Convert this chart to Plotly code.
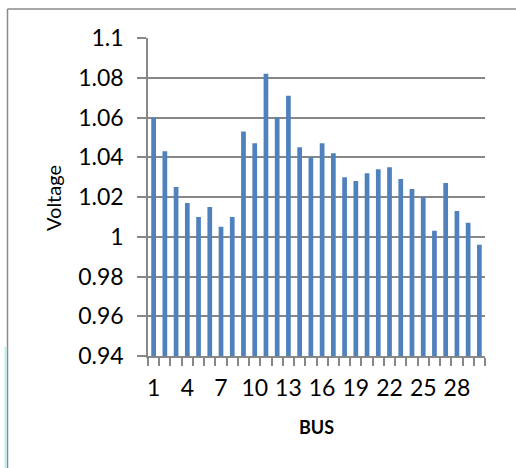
import plotly.graph_objects as go

buses = list(range(1, 31))
voltage = [1.060, 1.043, 1.025, 1.017, 1.010, 1.015, 1.005, 1.010, 1.053, 1.047,
           1.082, 1.060, 1.071, 1.045, 1.040, 1.047, 1.042, 1.030, 1.028, 1.032,
           1.034, 1.035, 1.029, 1.024, 1.020, 1.003, 1.027, 1.013, 1.007, 0.996]
x_tick_labels = [1, 4, 7, 10, 13, 16, 19, 22, 25, 28]
y_ticks = [0.94, 0.96, 0.98, 1.0, 1.02, 1.04, 1.06, 1.08, 1.1]
y_tick_text = ["0.94", "0.96", "0.98", "1", "1.02", "1.04", "1.06", "1.08", "1.1"]

W, H = 516, 468
L, R, T, B = 148, 31, 38, 112
pw, ph = W - L - R, H - T - B

def px(x):
    return (x - L) / pw

def py(y):
    return (H - B - y) / ph

grid = "#878787"
font_family = "Lato, 'Open Sans', sans-serif"

fig = go.Figure(go.Bar(x=buses, y=voltage, marker=dict(color="#4F81BD", line=dict(width=0))))

fig.update_layout(
    width=W, height=H,
    margin=dict(l=L, r=R, t=T, b=B),
    paper_bgcolor="white", plot_bgcolor="white",
    bargap=0.58,
    showlegend=False,
    font=dict(family=font_family, color="black"),
    xaxis=dict(
        range=[0.5, 30.5], tickmode="array", tickvals=x_tick_labels,
        ticktext=[str(v) for v in x_tick_labels],
        ticks="", showgrid=False, zeroline=False,
        showline=True, linecolor=grid, linewidth=1.5,
        tickfont=dict(size=23, family=font_family),
        ticklabelstandoff=11,
        minor=dict(tickmode="array", tickvals=[i + 0.5 for i in range(0, 31)],
                   ticks="outside", ticklen=8, tickcolor=grid, tickwidth=1.5, showgrid=False),
    ),
    yaxis=dict(
        range=[0.94, 1.1], tickmode="array", tickvals=y_ticks, ticktext=y_tick_text,
        ticks="outside", ticklen=9, tickcolor=grid, tickwidth=1.5,
        showgrid=True, gridcolor=grid, gridwidth=1.5, zeroline=False,
        showline=True, linecolor=grid, linewidth=1.5,
        tickfont=dict(size=23, family=font_family),
        ticklabelstandoff=9,
    ),
    annotations=[
        dict(text="Voltage", x=px(53), y=py(198), xref="paper", yref="paper",
             textangle=-90, showarrow=False, font=dict(size=20, family=font_family),
             xanchor="center", yanchor="middle"),
        dict(text="<b>BUS</b>", x=px(316), y=py(427), xref="paper", yref="paper",
             showarrow=False, font=dict(size=18, family=font_family),
             xanchor="center", yanchor="middle"),
    ],
    shapes=[
        dict(type="line", xref="paper", yref="paper", x0=px(7.5), x1=px(516), y0=py(9), y1=py(9),
             line=dict(color="#8a8a8a", width=1.5)),
        dict(type="line", xref="paper", yref="paper", x0=px(7.5), x1=px(7.5), y0=py(9), y1=py(468),
             line=dict(color="#8a8a8a", width=1.5)),
        dict(type="line", xref="paper", yref="paper", x0=px(5.5), x1=px(5.5), y0=py(347), y1=py(468),
             line=dict(color="#b4f0f0", width=2)),
    ],
)

fig.write_html("out.html", config={"displayModeBar": False},
               post_script="document.body.style.margin='0px';")
